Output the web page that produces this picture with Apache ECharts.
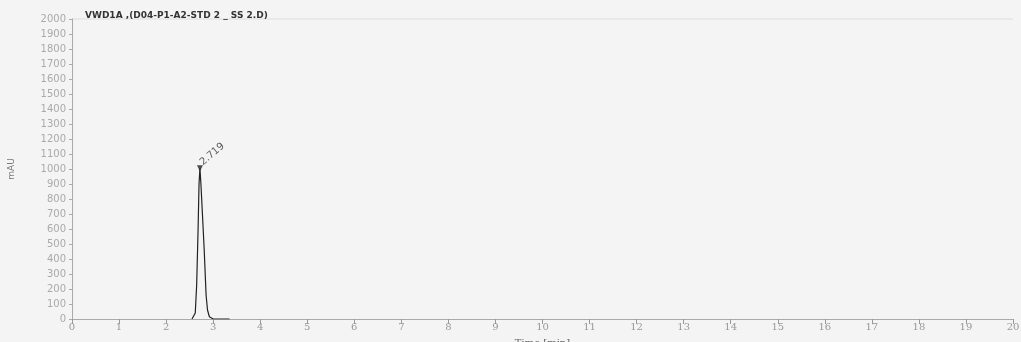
<!DOCTYPE html>
<html><head><meta charset="utf-8">
<script src="https://cdn.jsdelivr.net/npm/echarts@6/dist/echarts.min.js"></script>
<style>html,body{margin:0;padding:0;background:#f4f4f4}#c{width:1021px;height:342px}</style>
</head><body><div id="c"></div>
<script>
const titleText = 'VWD1A ,(D04-P1-A2-STD 2 _ SS 2.D)';
const timeMin = [2.55, 2.58, 2.62, 2.65, 2.68, 2.70, 2.719, 2.74, 2.78, 2.81, 2.85, 2.88, 2.92, 2.96, 3.00, 3.35];
const signalMAU = [0, 2, 40, 230, 600, 900, 1005, 900, 650, 460, 160, 60, 15, 3, 0, 0];
const peakTime = [2.719];
const peakHeight = [1005];
const peakLabels = ['2.719'];

const lineData = timeMin.map((t, i) => [t, signalMAU[i]]);
const peakData = peakTime.map((t, i) => ({value: [t, peakHeight[i]], name: peakLabels[i]}));

const chart = echarts.init(document.getElementById('c'));
chart.setOption({
  backgroundColor: '#f4f4f4',
  animation: false,
  title: {
    text: titleText, left: 80, top: 6,
    textStyle: {fontSize: 9, fontWeight: 'bold', color: '#333', fontFamily: 'DejaVu Sans'}
  },
  grid: {left: 72, right: 8, top: 19, bottom: 23, containLabel: false, outerBoundsMode: 'none'},
  xAxis: {
    type: 'value', min: 0, max: 20, interval: 1,
    name: 'Time [min]', nameLocation: 'middle', nameGap: 19,
    nameTextStyle: {fontSize: 10, color: '#666', fontFamily: 'DejaVu Serif'},
    axisLine: {lineStyle: {color: '#aaa'}},
    axisTick: {length: 5, lineStyle: {color: '#999'}},
    axisLabel: {fontSize: 10, color: '#999', margin: 3, fontFamily: 'DejaVu Serif'},
    splitLine: {show: false}
  },
  yAxis: {
    type: 'value', min: 0, max: 2000, interval: 100,
    name: 'mAU', nameLocation: 'middle', nameGap: 56, nameRotate: 90,
    nameTextStyle: {fontSize: 9, color: '#777', fontFamily: 'DejaVu Sans'},
    axisLine: {show: true, lineStyle: {color: '#aaa'}},
    axisTick: {show: true, length: 3, lineStyle: {color: '#aaa'}},
    axisLabel: {fontSize: 10, color: '#aaa', margin: 6, fontFamily: 'DejaVu Sans', formatter: v => String(v)},
    splitLine: {show: false}
  },
  series: [
    {
      type: 'line', data: lineData, showSymbol: false, smooth: false,
      lineStyle: {color: '#222', width: 1.2}
    },
    {
      type: 'scatter', data: peakData, symbol: 'triangle', symbolRotate: 180, symbolSize: 6,
      itemStyle: {color: '#222'},
      label: {
        show: true, formatter: p => p.name, rotate: 40, position: 'right',
        offset: [-2, -8], fontSize: 10, color: '#333', fontFamily: 'DejaVu Sans'
      }
    }
  ]
});
chart.getZr().add(new echarts.graphic.Line({
  shape: {x1: 72, y1: 19, x2: 1013, y2: 19}, style: {stroke: '#ddd', lineWidth: 1}
}));
</script></body></html>
